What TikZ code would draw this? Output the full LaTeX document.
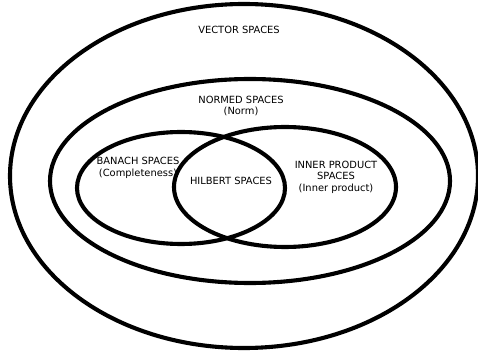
\documentclass[tikz,border=0pt]{standalone}
\usepackage{fontspec}
\setmainfont{DejaVu Sans}
\begin{document}
\begin{tikzpicture}[x=1pt,y=-1pt,
  ring/.style={line width=4.1pt, draw=black},
  lbl/.style={font=\fontsize{9.9}{11.6}\selectfont, align=center, inner sep=0pt}]
\useasboundingbox (0,0) rectangle (478,352);
\draw[ring] (244,176) ellipse [x radius=234, y radius=172];
\draw[ring] (250,181) ellipse [x radius=200, y radius=102];
\draw[ring] (181,188) ellipse [x radius=104, y radius=56];
\draw[ring] (285,187) ellipse [x radius=111, y radius=60];
\node[lbl] (vec) at (239,30) {VECTOR SPACES};
\node[lbl] (norm) at (241,106) {NORMED SPACES\\(Norm)};
\node[lbl] (ban) at (138,168) {BANACH SPACES\\(Completeness)};
\node[lbl] (hil) at (231,181) {HILBERT SPACES};
\node[lbl] (ip) at (336,177) {INNER PRODUCT\\SPACES\\(Inner product)};
\end{tikzpicture}
\end{document}
